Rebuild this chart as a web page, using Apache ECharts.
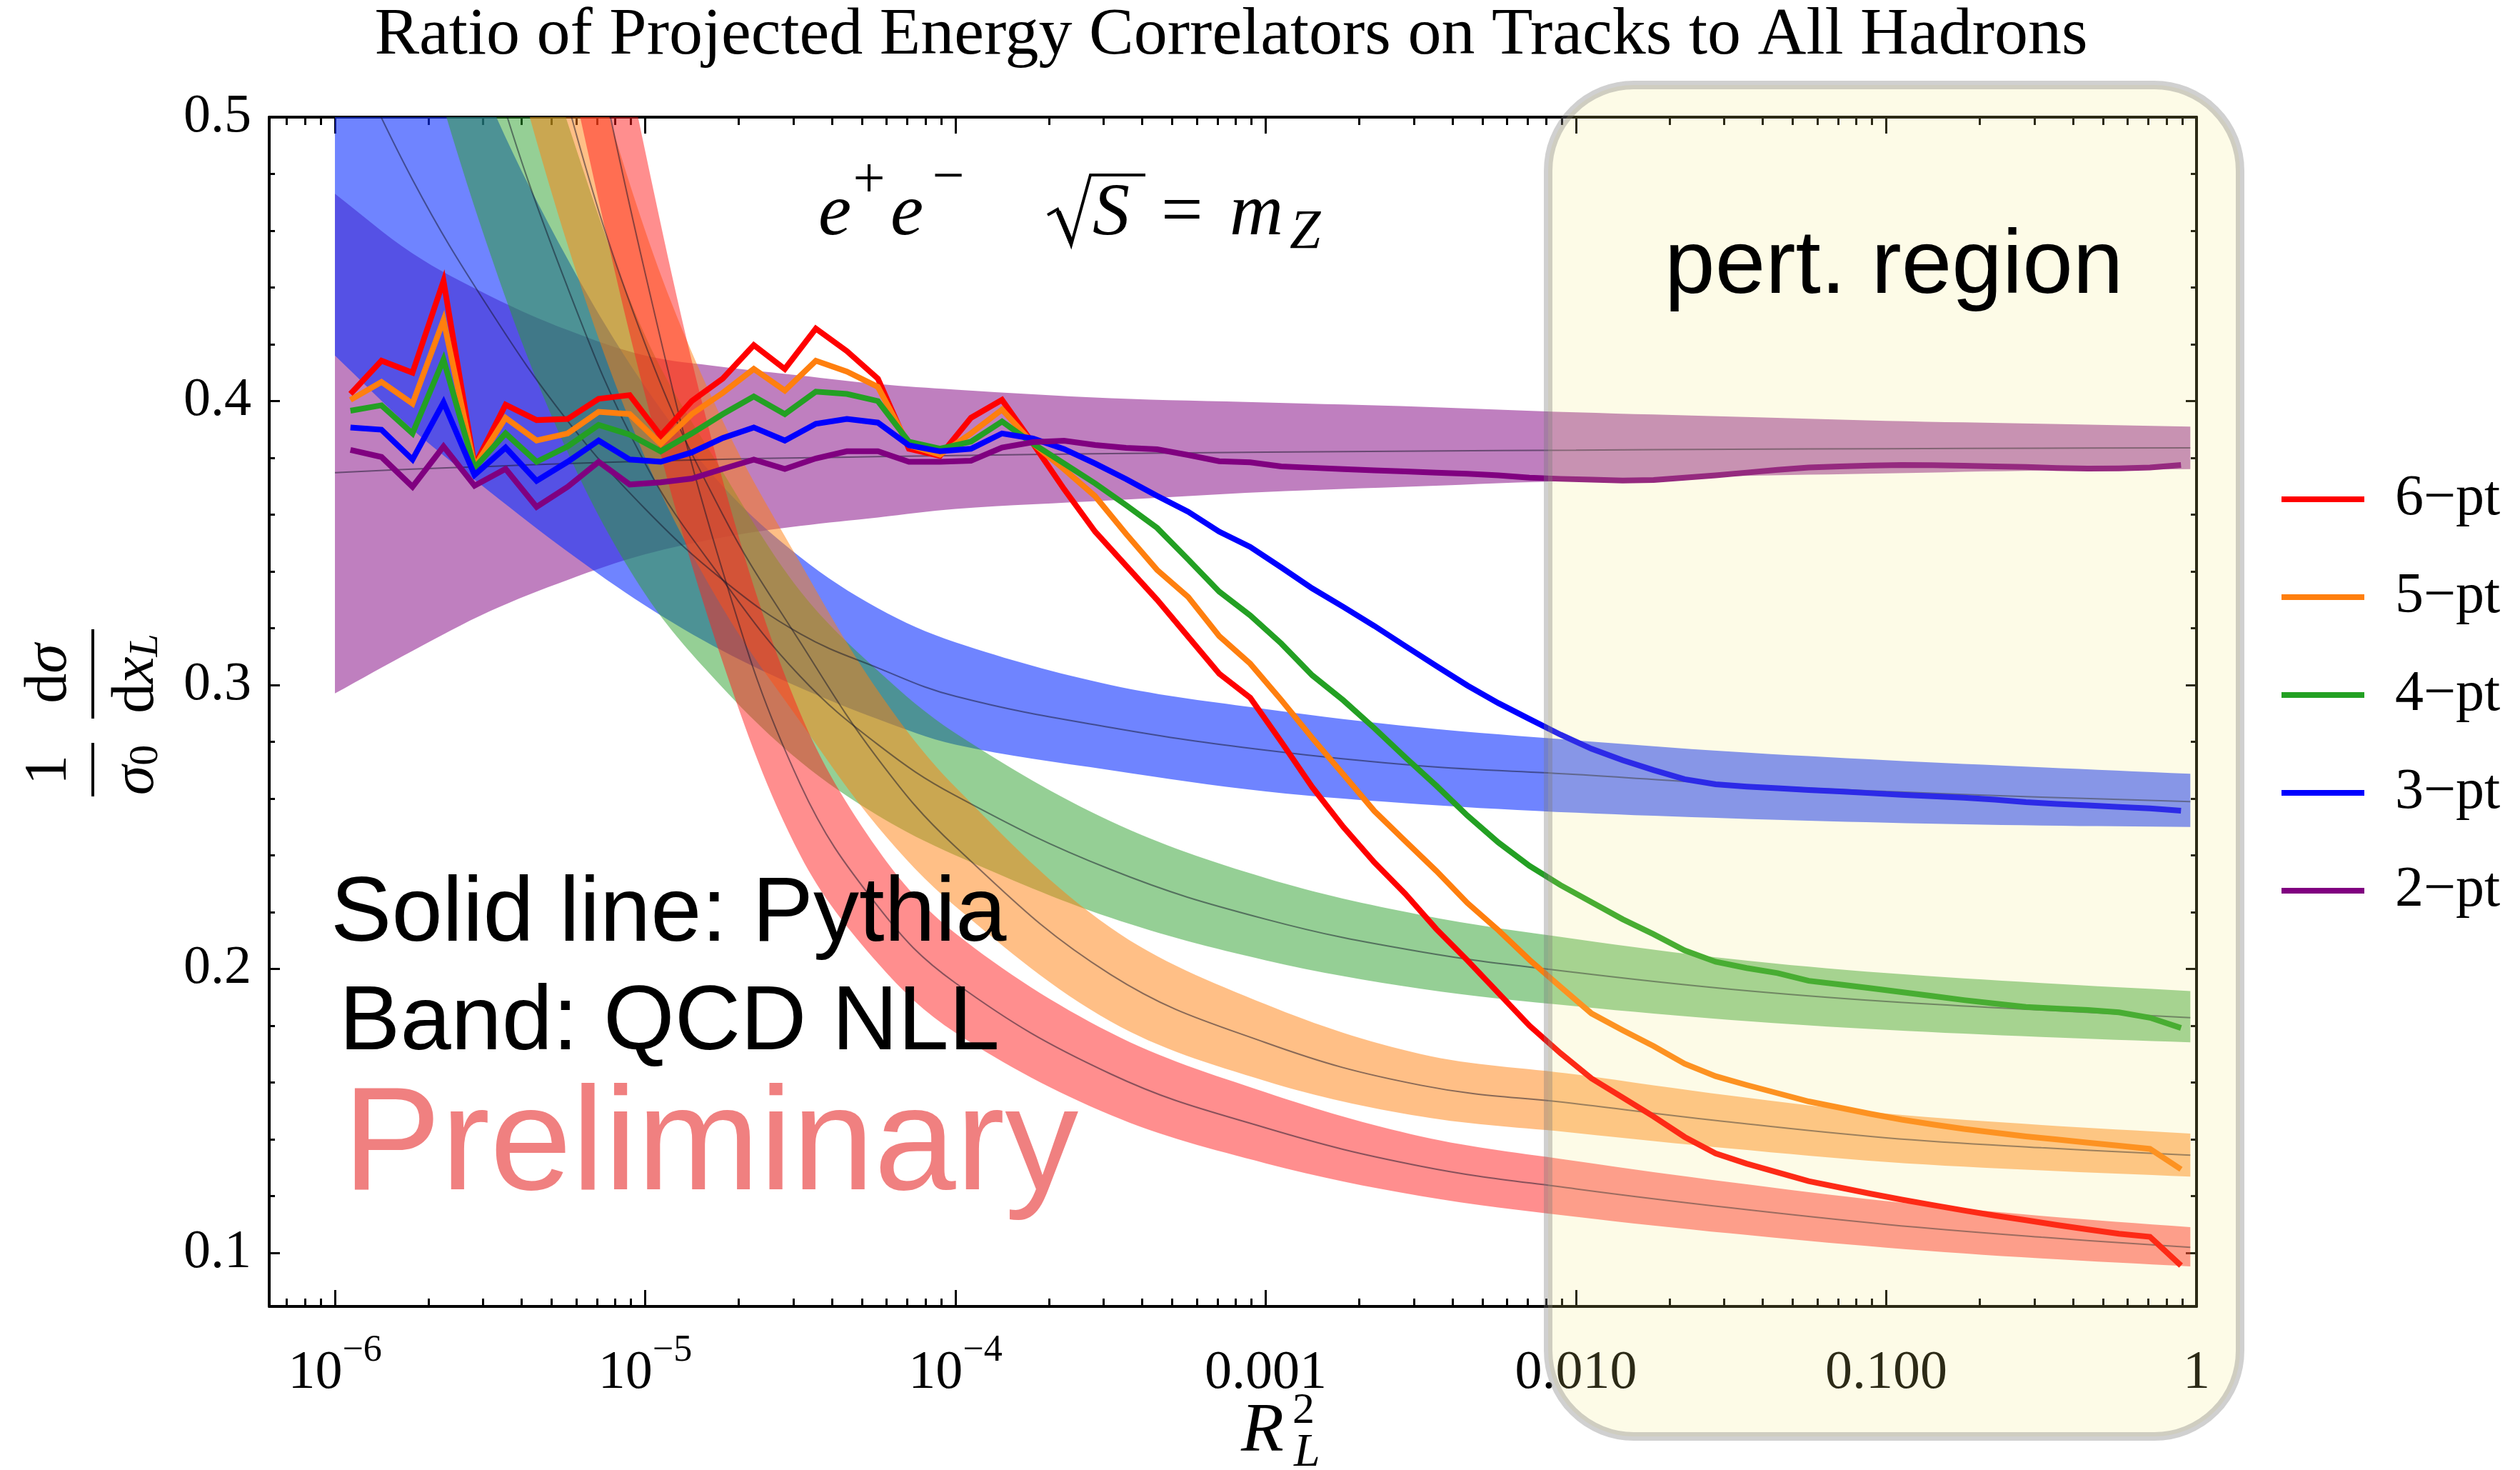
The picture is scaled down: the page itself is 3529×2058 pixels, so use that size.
<!DOCTYPE html>
<html>
<head>
<meta charset="utf-8">
<title>Ratio of Projected Energy Correlators on Tracks to All Hadrons</title>
<script src="https://cdn.jsdelivr.net/npm/echarts@6/dist/echarts.min.js"></script>
<style>
  html, body { margin: 0; padding: 0; background: #ffffff; }
  #chart { width: 3529px; height: 2058px; }
</style>
</head>
<body>
<div id="chart"></div>
<script>
// ---- Pythia: log10(R_L^2) bin centres and the five N-point ratios ----
const pythiaLogX = [-5.95,-5.85,-5.75,-5.65,-5.55,-5.45,-5.35,-5.25,-5.15,-5.05,-4.95,-4.85,-4.75,-4.65,-4.55,-4.45,-4.35,-4.25,-4.15,-4.05,
  -3.95,-3.85,-3.75,-3.65,-3.55,-3.45,-3.35,-3.25,-3.15,-3.05,-2.95,-2.85,-2.75,-2.65,-2.55,-2.45,-2.35,-2.25,-2.15,-2.05,
  -1.95,-1.85,-1.75,-1.65,-1.55,-1.45,-1.35,-1.25,-1.15,-1.05,-0.95,-0.85,-0.75,-0.65,-0.55,-0.45,-0.35,-0.25,-0.15,-0.05];

const pythia6pt = [0.4025,0.4142,0.4100,0.4423,0.3773,0.3987,0.3933,0.3937,0.4008,0.4021,0.3878,0.4000,0.4079,0.4197,0.4113,0.4255,0.4176,0.4079,0.3832,0.3807,
  0.3941,0.4004,0.385,0.369,0.354,0.342,0.330,0.317,0.304,0.2955,0.280,0.264,0.250,0.2375,0.2264,0.214,0.203,0.1915,0.180,0.1703,
  0.1614,0.1547,0.148,0.1408,0.135,0.1314,0.1283,0.1252,0.123,0.1208,0.1187,0.1168,0.1149,0.1131,0.1115,0.1098,0.1082,0.1067,0.1056,0.0955];
const pythia5pt = [0.4004,0.4067,0.3991,0.4285,0.3769,0.3941,0.3861,0.3886,0.3962,0.3954,0.3849,0.3954,0.4029,0.4113,0.4037,0.4142,0.4104,0.4050,0.3844,0.3811,
  0.3886,0.3970,0.385,0.376,0.3665,0.3532,0.3405,0.331,0.3172,0.3075,0.2947,0.2813,0.2685,0.2556,0.245,0.2345,0.2232,0.2136,0.2032,0.1937,
  0.1843,0.1784,0.1728,0.1666,0.1622,0.1591,0.1562,0.1533,0.1511,0.1489,0.1469,0.1452,0.1436,0.1423,0.141,0.1399,0.1388,0.1377,0.1366,0.1294];
const pythia4pt = [0.3966,0.3985,0.3886,0.4146,0.3765,0.3886,0.3786,0.3840,0.3916,0.3882,0.3823,0.3886,0.3954,0.4016,0.3954,0.4033,0.4025,0.4000,0.3857,0.3832,
  0.3857,0.3928,0.385,0.378,0.371,0.3633,0.3553,0.3442,0.3329,0.3245,0.3146,0.3034,0.2946,0.2848,0.2745,0.2645,0.254,0.2445,0.2363,0.2295,
  0.2235,0.2175,0.2122,0.2065,0.2025,0.2003,0.1985,0.1958,0.1945,0.1932,0.1918,0.1904,0.189,0.1878,0.1866,0.186,0.1855,0.1847,0.1828,0.1792];
const pythia3pt = [0.3907,0.3899,0.3794,0.3995,0.3740,0.3836,0.3719,0.3786,0.3861,0.3794,0.3786,0.3819,0.3870,0.3907,0.3861,0.3920,0.3937,0.3924,0.3844,0.3823,
  0.3832,0.3886,0.3868,0.3831,0.378,0.3725,0.3666,0.361,0.354,0.3486,0.3414,0.334,0.3275,0.3208,0.3137,0.3067,0.2998,0.2936,0.288,0.2825,
  0.2775,0.2735,0.27,0.2668,0.265,0.2642,0.2636,0.263,0.2625,0.2619,0.2613,0.2608,0.2603,0.2596,0.2587,0.2581,0.2576,0.257,0.2565,0.2557];
const pythia2pt = [0.3828,0.3803,0.3698,0.3840,0.3702,0.3761,0.3627,0.3698,0.3786,0.3706,0.3714,0.3727,0.3761,0.3794,0.3761,0.3798,0.3823,0.3823,0.3786,0.3786,
  0.3790,0.3836,0.3855,0.386,0.3845,0.3835,0.383,0.381,0.3788,0.3784,0.377,0.3765,0.376,0.3756,0.3752,0.3748,0.3744,0.3738,0.373,0.3726,
  0.3723,0.372,0.3722,0.373,0.3738,0.3748,0.3758,0.3766,0.377,0.3773,0.3775,0.3774,0.3772,0.377,0.3768,0.3764,0.3762,0.3763,0.3766,0.3775];

// ---- QCD NLL bands: log10(R_L^2) sample points, lower edge, central value, upper edge ----
const bandLogX = [-6,-5.75,-5.5,-5.25,-5,-4.75,-4.5,-4.25,-4,-3.5,-3,-2.5,-2,-1.5,-1,-0.5,-0.02];

const band2ptLo  = [0.297,0.312,0.326,0.337,0.346,0.352,0.356,0.359,0.362,0.365,0.368,0.370,0.372,0.3735,0.3745,0.3755,0.376];
const band2ptMid = [0.3748,0.3760,0.3770,0.3780,0.3788,0.3795,0.3800,0.3804,0.3808,0.3815,0.3820,0.3824,0.3827,0.3830,0.3832,0.3834,0.3835];
const band2ptHi  = [0.473,0.452,0.437,0.425,0.416,0.412,0.409,0.406,0.404,0.401,0.3995,0.398,0.396,0.3945,0.393,0.392,0.391];

const band3ptLo  = [0.416,0.390,0.368,0.347,0.328,0.312,0.299,0.288,0.279,0.270,0.2625,0.258,0.255,0.253,0.2515,0.2505,0.250];
const band3ptMid = [0.535,0.478,0.432,0.393,0.362,0.337,0.318,0.306,0.296,0.285,0.277,0.2715,0.2685,0.265,0.2625,0.2605,0.2589];
const band3ptHi  = [0.66,0.575,0.505,0.450,0.405,0.370,0.345,0.327,0.315,0.300,0.2915,0.285,0.2805,0.2765,0.2735,0.271,0.2687];

const band4ptLo  = [0.652,0.542,0.452,0.382,0.332,0.299,0.273,0.254,0.240,0.218,0.203,0.193,0.1868,0.182,0.1785,0.176,0.1741];
const band4ptMid = [0.75,0.625,0.52,0.44,0.378,0.337,0.303,0.279,0.261,0.235,0.2175,0.206,0.1987,0.1928,0.1885,0.1855,0.1828];
const band4ptHi  = [0.848,0.708,0.588,0.498,0.423,0.375,0.333,0.305,0.283,0.252,0.232,0.219,0.2105,0.2035,0.1985,0.195,0.1922];

const band5ptLo  = [0.83,0.69,0.555,0.455,0.38,0.327,0.287,0.250,0.222,0.1815,0.1605,0.148,0.1422,0.1367,0.132,0.129,0.1268];
const band5ptMid = [0.95,0.78,0.62,0.505,0.42,0.36,0.315,0.274,0.243,0.198,0.174,0.159,0.1525,0.146,0.1405,0.137,0.1344];
const band5ptHi  = [1.07,0.87,0.685,0.555,0.46,0.393,0.343,0.298,0.264,0.2145,0.1875,0.170,0.1628,0.1553,0.149,0.145,0.142];

const band6ptLo  = [1.17,0.855,0.648,0.52,0.402,0.308,0.240,0.202,0.1775,0.1485,0.1315,0.120,0.1127,0.1068,0.1018,0.098,0.0952];
const band6ptMid = [1.30,0.95,0.72,0.575,0.445,0.34,0.265,0.222,0.195,0.163,0.144,0.1305,0.1225,0.1158,0.110,0.1055,0.1019];
const band6ptHi  = [1.43,1.045,0.792,0.63,0.488,0.372,0.290,0.242,0.2125,0.1775,0.1565,0.141,0.1323,0.1248,0.1182,0.113,0.109];

// ---- axes: ticks and labels ----
const xMajorTicks = [1e-6, 1e-5, 1e-4, 1e-3, 1e-2, 1e-1, 1];
const xTickLabels = ['10^−6', '10^−5', '10^−4', '0.001', '0.010', '0.100', '1'];
const yMajorTicks = [0.1, 0.2, 0.3, 0.4, 0.5];
const yTickLabels = ['0.1', '0.2', '0.3', '0.4', '0.5'];
const yMinorTicks = [0.12,0.14,0.16,0.18,0.22,0.24,0.26,0.28,0.32,0.34,0.36,0.38,0.42,0.44,0.46,0.48];
const seriesNames = ['6−pt', '5−pt', '4−pt', '3−pt', '2−pt'];

const X_MIN = 6.14e-7, X_MAX = 1;
const Y_MIN = 0.0811, Y_MAX = 0.5;

// log-axis minor ticks at 2..9 of every decade in view
const xMinorTicks = [7e-7, 8e-7, 9e-7];
for (let d = -6; d < 0; d++) {
  for (let m = 2; m <= 9; m++) xMinorTicks.push(m * Math.pow(10, d));
}

const lineColors = ['#ff0000', '#ff7f0e', '#23a023', '#0000ff', '#800080'];
const bandFills = {
  p2: 'rgba(128,0,128,0.5)',
  p3: 'rgba(15,50,255,0.6)',
  p4: 'rgba(44,160,44,0.5)',
  p5: 'rgba(255,127,14,0.5)',
  p6: 'rgba(255,30,30,0.5)'
};

const SERIF = 'Liberation Serif';

function toPairs(logX, ys) {
  return logX.map((e, i) => [Math.pow(10, e), ys[i]]);
}

// a filled band: one smoothed polygon through the upper edge and back along the lower edge
function bandFill(name, lo, hi, fill) {
  const rows = bandLogX.map((e, i) => [Math.pow(10, e), lo[i], hi[i]]);
  return {
    type: 'custom',
    name: name,
    clip: true,
    silent: true,
    z: 1,
    data: rows,
    encode: { x: 0, y: [1, 2] },
    renderItem: function (params, api) {
      if (params.dataIndex !== 0) return null;
      const upper = rows.map(r => api.coord([r[0], r[2]]));
      const lower = rows.map(r => api.coord([r[0], r[1]])).reverse();
      // corner points are doubled so the end cuts stay straight
      const pts = [upper[0]].concat(upper, [upper[upper.length - 1], lower[0]], lower, [lower[lower.length - 1]]);
      return {
        type: 'polygon',
        shape: { points: pts, smooth: 0.35 },
        style: { fill: fill, stroke: null }
      };
    }
  };
}

function bandCentre(name, mid) {
  return {
    type: 'line',
    name: name,
    data: toPairs(bandLogX, mid),
    smooth: 0.4,
    showSymbol: false,
    silent: true,
    z: 1,
    lineStyle: { color: 'rgba(20,20,40,0.5)', width: 2 }
  };
}

function pythiaLine(idx, ys) {
  return {
    type: 'line',
    name: seriesNames[idx],
    data: toPairs(pythiaLogX, ys),
    showSymbol: false,
    silent: true,
    z: 3,
    color: lineColors[idx],
    lineStyle: { color: lineColors[idx], width: 8, join: 'miter', miterLimit: 6 }
  };
}

function xLabel(v) {
  const i = xMajorTicks.findIndex(t => Math.abs(Math.log10(t) - Math.log10(v)) < 1e-6);
  if (i < 0) return '';
  const parts = xTickLabels[i].split('^');
  return parts.length === 2 ? '{b|' + parts[0] + '}{s|' + parts[1] + '}' : '{b|' + parts[0] + '}';
}

const tickLine = { color: '#000', width: 3 };
const frameLine = { show: true, onZero: false, lineStyle: { color: '#000', width: 4 } };

function xAxisDef(position, major) {
  return {
    type: 'log', logBase: 10, min: X_MIN, max: X_MAX, position: position,
    axisLine: major ? frameLine : { show: false },
    axisTick: { show: true, inside: true, length: major ? 23 : 11, lineStyle: tickLine,
                customValues: major ? xMajorTicks : xMinorTicks },
    axisLabel: (major && position === 'bottom') ? {
      show: true, customValues: xMajorTicks, margin: 36, formatter: xLabel,
      rich: {
        b: { fontFamily: SERIF, fontSize: 76, lineHeight: 96, verticalAlign: 'bottom', color: '#000' },
        s: { fontFamily: SERIF, fontSize: 52, lineHeight: 52, verticalAlign: 'top', color: '#000' }
      }
    } : { show: false },
    splitLine: { show: false }, minorTick: { show: false }, minorSplitLine: { show: false }
  };
}

function yAxisDef(position, major) {
  return {
    type: 'value', min: Y_MIN, max: Y_MAX, position: position,
    axisLine: major ? frameLine : { show: false },
    axisTick: { show: true, inside: true, length: major ? 15 : 8, lineStyle: tickLine,
                customValues: major ? yMajorTicks : yMinorTicks },
    axisLabel: (major && position === 'left') ? {
      show: true, customValues: yMajorTicks, margin: 25,
      fontFamily: SERIF, fontSize: 76, color: '#000',
      formatter: function (v) {
        const i = yMajorTicks.findIndex(t => Math.abs(t - v) < 1e-9);
        return i < 0 ? '' : yTickLabels[i];
      }
    } : { show: false },
    splitLine: { show: false }, minorTick: { show: false }, minorSplitLine: { show: false }
  };
}

function label(x, y, text, font, align) {
  return { type: 'text', z: 120, x: x, y: y,
    style: { text: text, font: font, fill: '#000', align: align || 'left', verticalAlign: 'middle' } };
}

const MATH = '"Liberation Serif"';

const option = {
  animation: false,
  backgroundColor: '#ffffff',
  grid: { left: 377, top: 164, width: 2699, height: 1665, containLabel: false },
  xAxis: [xAxisDef('bottom', true), xAxisDef('bottom', false), xAxisDef('top', true), xAxisDef('top', false)],
  yAxis: [yAxisDef('left', true), yAxisDef('left', false), yAxisDef('right', true), yAxisDef('right', false)],
  legend: {
    data: seriesNames,
    orient: 'vertical',
    left: 3190, top: 654,
    icon: 'rect', itemWidth: 116, itemHeight: 8, itemGap: 57,
    selectedMode: false,
    textStyle: { fontFamily: SERIF, fontSize: 80, lineHeight: 80, color: '#000', padding: [0, 0, 0, 38] }
  },
  series: [
    bandFill('band 2-pt', band2ptLo, band2ptHi, bandFills.p2),
    bandCentre('centre 2-pt', band2ptMid),
    bandFill('band 3-pt', band3ptLo, band3ptHi, bandFills.p3),
    bandCentre('centre 3-pt', band3ptMid),
    bandFill('band 4-pt', band4ptLo, band4ptHi, bandFills.p4),
    bandCentre('centre 4-pt', band4ptMid),
    bandFill('band 5-pt', band5ptLo, band5ptHi, bandFills.p5),
    bandCentre('centre 5-pt', band5ptMid),
    bandFill('band 6-pt', band6ptLo, band6ptHi, bandFills.p6),
    bandCentre('centre 6-pt', band6ptMid),
    pythiaLine(0, pythia6pt),
    pythiaLine(1, pythia5pt),
    pythiaLine(2, pythia4pt),
    pythiaLine(3, pythia3pt),
    pythiaLine(4, pythia2pt)
  ],
  graphic: [
    label(1724, 50, 'Ratio of Projected Energy Correlators on Tracks to All Hadrons', '94px "Liberation Serif"', 'center'),
    // perturbative region highlight
    {
      type: 'rect', z: 100,
      shape: { x: 2168, y: 119, width: 969, height: 1892, r: 120 },
      style: { fill: 'rgba(245,235,120,0.18)', stroke: 'rgba(120,120,120,0.35)', lineWidth: 12 }
    },
    label(2331, 375, 'pert. region', '127px "Liberation Sans"'),
    // collision label: e+ e-,  sqrt(S) = m_Z
    label(1146, 301, 'e', 'italic 104px ' + MATH),
    label(1217, 255, '+', '80px ' + MATH, 'center'),
    label(1247, 301, 'e', 'italic 104px ' + MATH),
    label(1328, 251, '−', '80px ' + MATH, 'center'),
    { type: 'polyline', z: 120, shape: { points: [[1467, 301], [1481, 293], [1500, 343], [1527, 245], [1604, 245]] },
      style: { stroke: '#000', lineWidth: 4, fill: null, lineJoin: 'miter' } },
    { type: 'line', z: 120, shape: { x1: 1482, y1: 296, x2: 1500, y2: 339 }, style: { stroke: '#000', lineWidth: 7 } },
    label(1530, 301, 'S', 'italic 104px ' + MATH),
    label(1626, 301, '=', '104px ' + MATH),
    label(1722, 301, 'm', 'italic 104px ' + MATH),
    label(1806, 326, 'Z', 'italic 78px ' + MATH),
    label(463, 1282, 'Solid line: Pythia', '128px "Liberation Sans"'),
    label(475, 1434, 'Band: QCD NLL', '128px "Liberation Sans"'),
    {
      type: 'text', z: 120, x: 480, y: 1608,
      style: { text: 'Preliminary', font: '206px "Liberation Sans"', fill: '#f08080', align: 'left', verticalAlign: 'middle' }
    },
    // x-axis title R_L^2
    label(1738, 2005, 'R', 'italic 98px ' + MATH),
    label(1810, 1976, '2', '62px ' + MATH),
    label(1812, 2035, 'L', 'italic 66px ' + MATH),
    // y-axis title: (1/σ0) dσ/dx_L, rotated
    {
      type: 'group', z: 120, x: 130, y: 998, rotation: Math.PI / 2,
      children: [
        { type: 'line', shape: { x1: -117, y1: 0, x2: -42, y2: 0 }, style: { stroke: '#000', lineWidth: 4 } },
        { type: 'line', shape: { x1: -8, y1: 0, x2: 117, y2: 0 }, style: { stroke: '#000', lineWidth: 4 } },
        { type: 'text', x: -80, y: -60,
          style: { text: '1', font: '84px "Liberation Serif"', fill: '#000', align: 'center', verticalAlign: 'middle' } },
        { type: 'text', x: -80, y: 56,
          style: { text: '{a|σ}{b|0}', align: 'center', verticalAlign: 'middle',
                   rich: { a: { fontFamily: SERIF, fontStyle: 'italic', fontSize: 84, lineHeight: 96, verticalAlign: 'bottom', fill: '#000' },
                           b: { fontFamily: SERIF, fontSize: 58, lineHeight: 44, verticalAlign: 'bottom', fill: '#000' } } } },
        { type: 'text', x: 55, y: -60,
          style: { text: '{a|d}{c|σ}', align: 'center', verticalAlign: 'middle',
                   rich: { a: { fontFamily: SERIF, fontSize: 84, fill: '#000' },
                           c: { fontFamily: SERIF, fontStyle: 'italic', fontSize: 84, fill: '#000' } } } },
        { type: 'text', x: 55, y: 56,
          style: { text: '{a|d}{c|x}{b|L}', align: 'center', verticalAlign: 'middle',
                   rich: { a: { fontFamily: SERIF, fontSize: 84, lineHeight: 96, verticalAlign: 'bottom', fill: '#000' },
                           c: { fontFamily: SERIF, fontStyle: 'italic', fontSize: 84, lineHeight: 96, verticalAlign: 'bottom', fill: '#000' },
                           b: { fontFamily: SERIF, fontStyle: 'italic', fontSize: 58, lineHeight: 44, verticalAlign: 'bottom', fill: '#000' } } } }
      ]
    }
  ]
};

const chart = echarts.init(document.getElementById('chart'), null, { renderer: 'canvas', width: 3529, height: 2058 });
chart.setOption(option);
</script>
</body>
</html>
